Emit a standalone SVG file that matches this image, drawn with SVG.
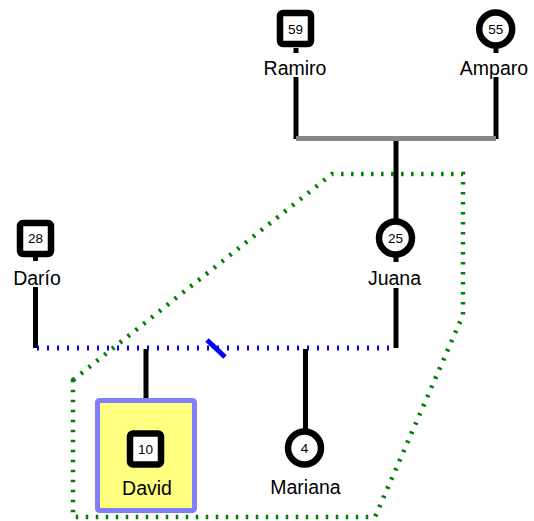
<svg xmlns="http://www.w3.org/2000/svg" width="534" height="521" viewBox="0 0 534 521">
  <style>
    .name { font-family: "Liberation Sans", Arial, sans-serif; font-size: 19.5px; fill: #000; text-anchor: middle; }
    .age { font-family: "Liberation Sans", Arial, sans-serif; font-size: 13.5px; fill: #000; text-anchor: middle; dominant-baseline: central; }
    .male { fill: #fff; stroke: #000; stroke-width: 6.5; }
    .female { fill: #fff; stroke: #000; stroke-width: 6.5; }
    .link { stroke: #000; stroke-width: 5; fill: none; }
    .marriage { stroke: #888; stroke-width: 5; fill: none; }
    .union { stroke: #0000ff; stroke-width: 5; stroke-dasharray: 2 8; fill: none; }
    .divorce { stroke: #0000ff; stroke-width: 5; fill: none; }
    .household { stroke: #008000; stroke-width: 4.5; stroke-dasharray: 2.5 7.5; fill: none; }
  </style>

  <!-- household boundary -->
  <g id="household">
    <polygon class="household" points="73,380 332,174 463,174 463,315 375,517 73,517"/>
  </g>

  <!-- connectors -->
  <g id="connectors">
    <line class="link" x1="296" y1="48" x2="296" y2="53"/>
    <line class="link" x1="296" y1="77" x2="296" y2="139"/>
    <line class="link" x1="496" y1="48" x2="496" y2="53"/>
    <line class="link" x1="496" y1="77" x2="496" y2="139"/>
    <line class="marriage" x1="296" y1="138.5" x2="496" y2="138.5"/>
    <line class="link" x1="396" y1="141" x2="396" y2="222"/>
    <line class="link" x1="396" y1="256" x2="396" y2="262"/>
    <line class="link" x1="396" y1="288" x2="396" y2="348"/>
    <line class="link" x1="35.5" y1="256" x2="35.5" y2="261"/>
    <line class="link" x1="35.5" y1="287" x2="35.5" y2="348"/>
    <line class="union" x1="37" y1="348" x2="393" y2="348"/>
    <line class="divorce" x1="207" y1="340" x2="225" y2="357"/>
    <line class="link" x1="146" y1="349" x2="146" y2="400"/>
    <line class="link" x1="305.5" y1="349" x2="305.5" y2="430"/>
  </g>

  <g id="ramiro">
    <rect class="male" x="280" y="13" width="31" height="31" rx="3"/>
    <text class="age" x="295.5" y="29">59</text>
    <text class="name" x="295" y="75">Ramiro</text>
  </g>

  <g id="amparo">
    <circle class="female" cx="495.7" cy="29" r="16.5"/>
    <text class="age" x="495.7" y="29">55</text>
    <text class="name" x="494" y="75">Amparo</text>
  </g>

  <g id="dario">
    <rect class="male" x="20" y="223" width="31" height="31" rx="3"/>
    <text class="age" x="35.5" y="238.5">28</text>
    <text class="name" x="37" y="285">Darío</text>
  </g>

  <g id="juana">
    <circle class="female" cx="395.5" cy="238" r="16.5"/>
    <text class="age" x="395.5" y="238">25</text>
    <text class="name" x="394.5" y="285">Juana</text>
  </g>

  <g id="david">
    <rect x="97.5" y="400.5" width="97" height="110" rx="2" fill="#ffff80" stroke="#8080ff" stroke-width="5"/>
    <rect class="male" x="130" y="433.5" width="31" height="31" rx="3"/>
    <text class="age" x="145.5" y="449">10</text>
    <text class="name" x="147" y="495">David</text>
  </g>

  <g id="mariana">
    <circle class="female" cx="304.5" cy="448" r="16.5"/>
    <text class="age" x="304.5" y="448">4</text>
    <text class="name" x="305.5" y="494">Mariana</text>
  </g>
</svg>
